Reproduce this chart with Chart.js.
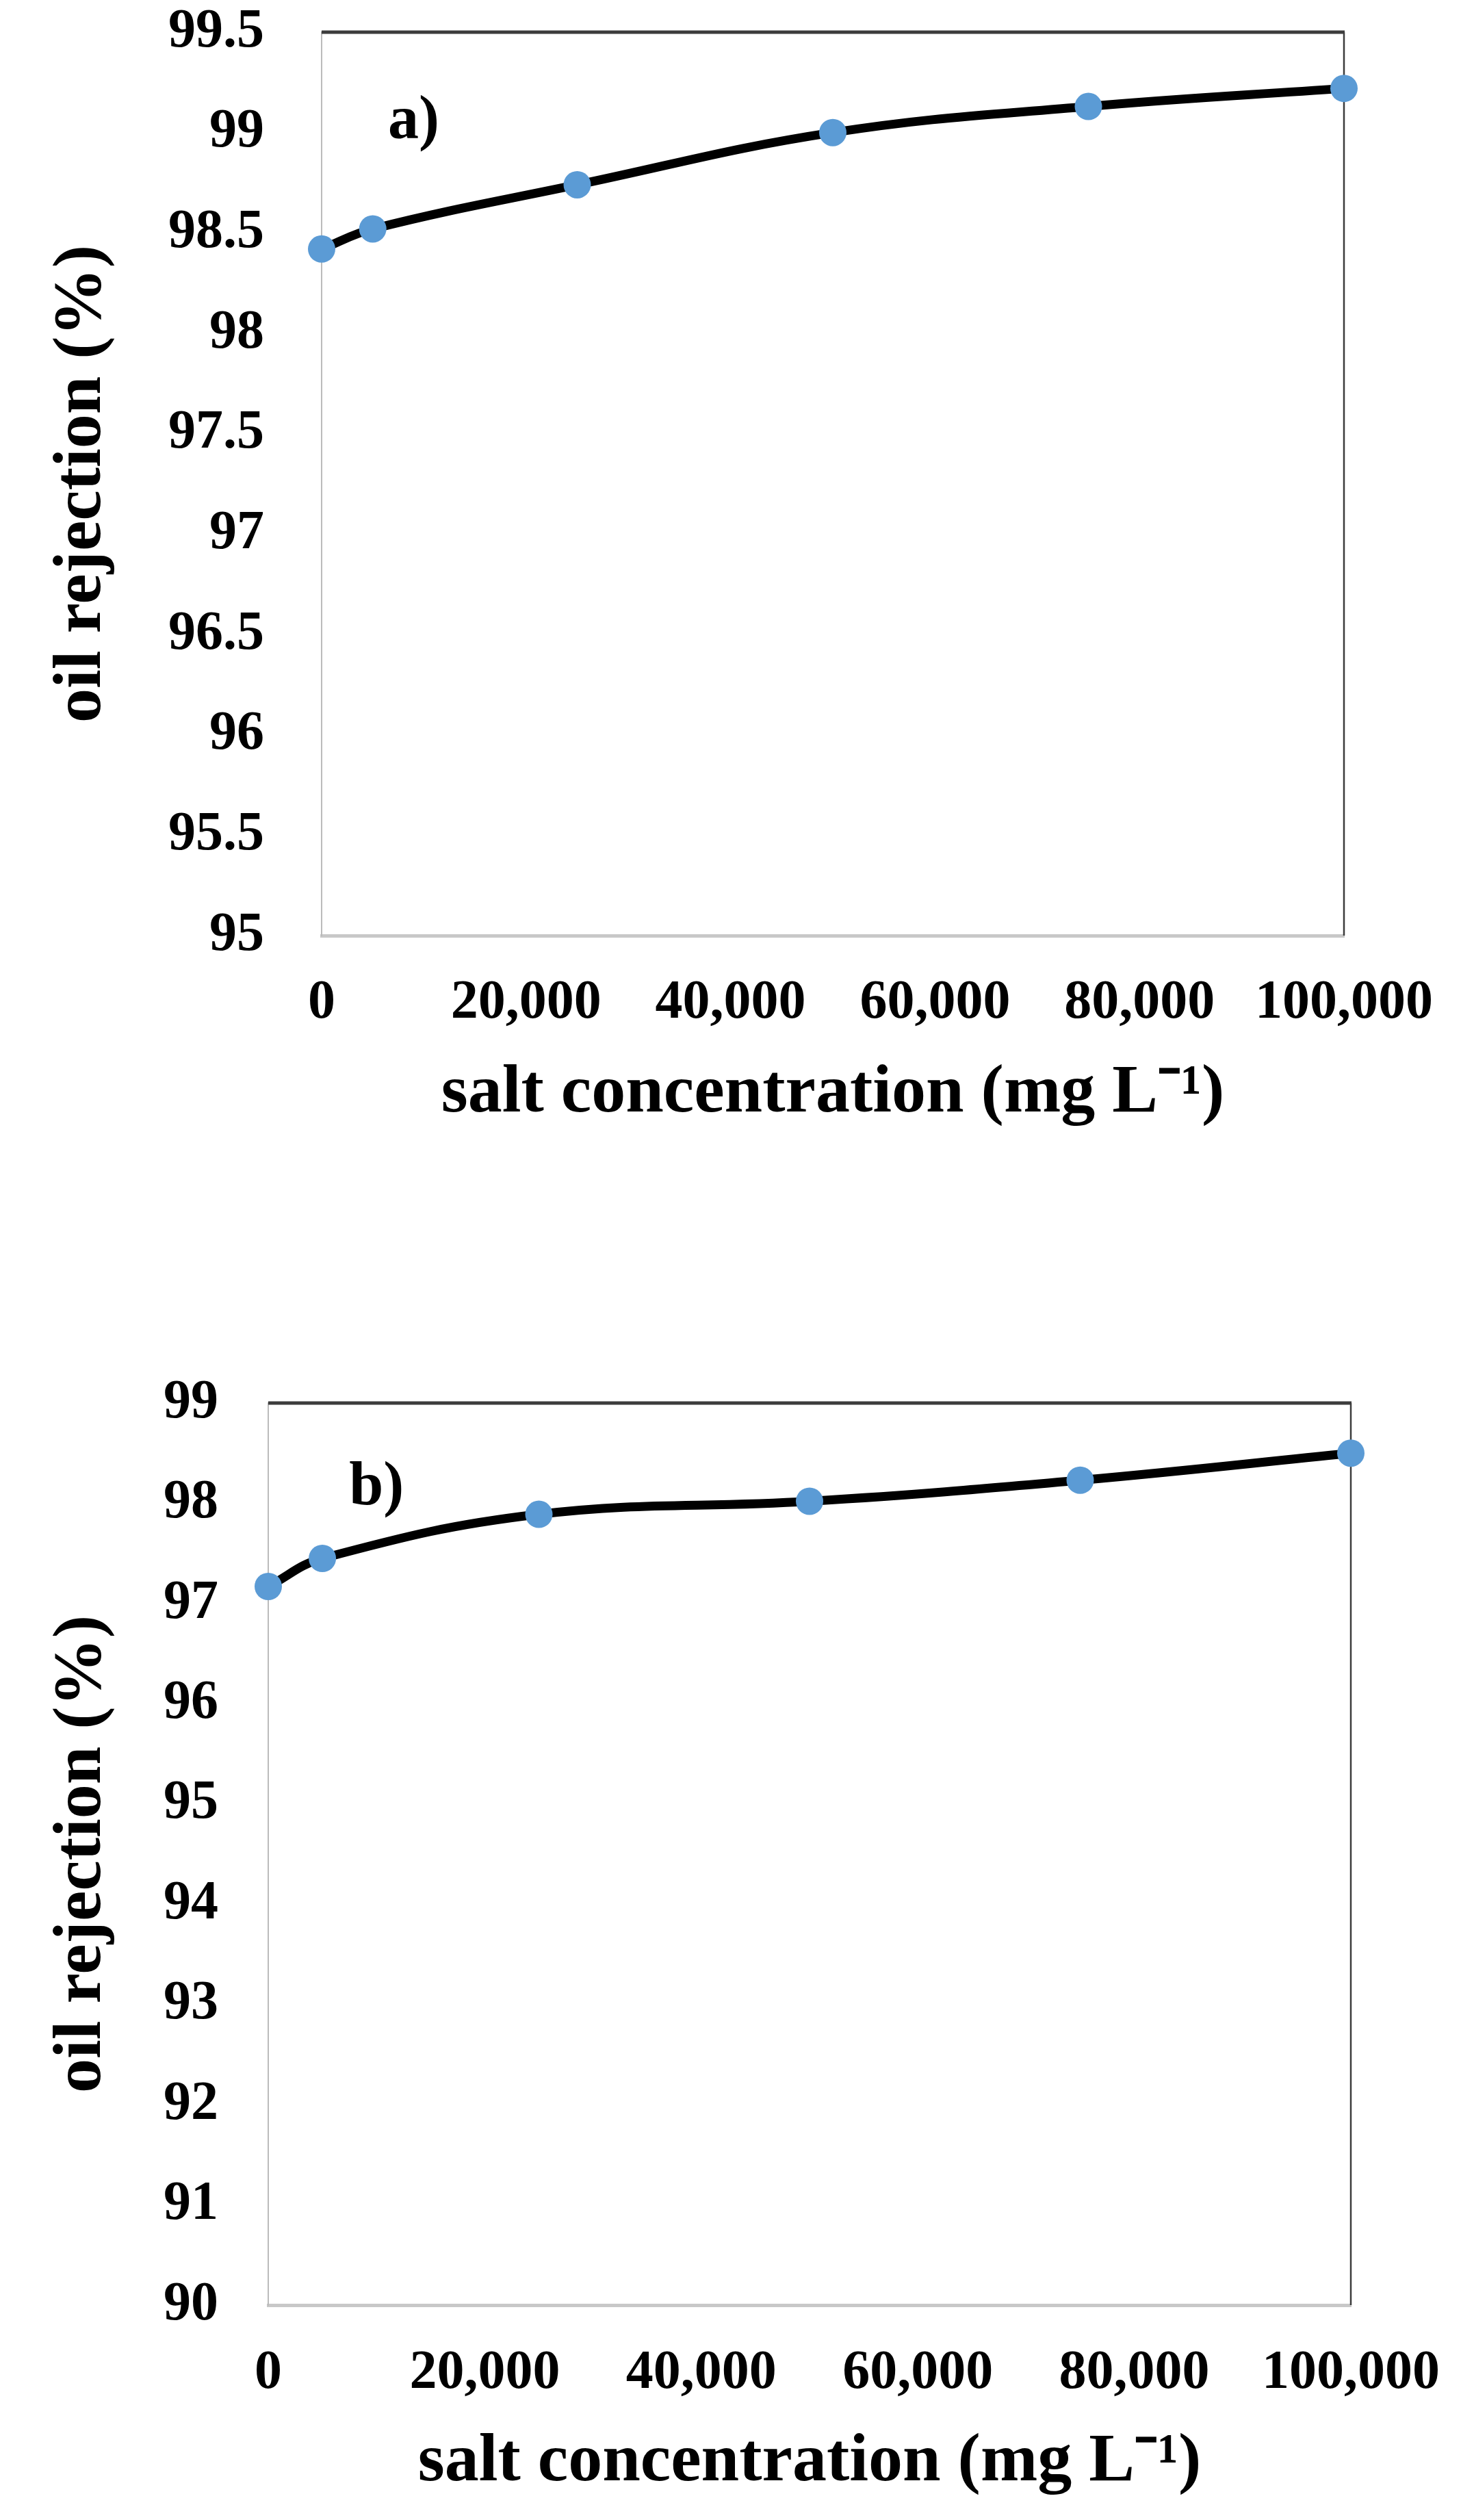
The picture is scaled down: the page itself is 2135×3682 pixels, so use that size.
<!DOCTYPE html>
<html>
<head>
<meta charset="utf-8">
<script src="https://cdn.jsdelivr.net/npm/chart.js@4.4.1/dist/chart.umd.min.js"></script>
<style>
  body { margin: 0; background: #fff; }
  canvas { position: absolute; left: 0; }
  #chartA { top: 0; }
  #chartB { top: 1950px; }
</style>
</head>
<body>
<canvas id="chartA" width="2135" height="1700"></canvas>
<canvas id="chartB" width="2135" height="1732"></canvas>
<script>
// datos
const saltConc = [0, 5000, 25000, 50000, 75000, 100000];
const rejectionA = [98.42, 98.52, 98.74, 99.0, 99.13, 99.22];
const rejectionB = [97.17, 97.45, 97.89, 98.02, 98.23, 98.50];

const xTicks = [0, 20000, 40000, 60000, 80000, 100000];
const yTicksA = [95, 95.5, 96, 96.5, 97, 97.5, 98, 98.5, 99, 99.5];
const yTicksB = [90, 91, 92, 93, 94, 95, 96, 97, 98, 99];

const FONT = '"Liberation Serif", "Times New Roman", serif';

// marco superior/derecho y etiqueta del panel
const framePlugin = {
    id: 'frame',
    beforeDatasetsDraw(chart, args, opts) {
        const { ctx, chartArea: a, scales } = chart;
        ctx.save();
        ctx.strokeStyle = '#3c3c3c';
        ctx.lineWidth = 5;
        ctx.beginPath();
        ctx.moveTo(a.left, a.top);
        ctx.lineTo(a.right + 1, a.top);
        ctx.stroke();
        ctx.lineWidth = 2.5;
        ctx.beginPath();
        ctx.moveTo(a.right, a.top);
        ctx.lineTo(a.right, a.bottom);
        ctx.stroke();

        ctx.font = 'bold 90px ' + FONT;
        ctx.fillStyle = '#000';
        ctx.textAlign = 'center';
        ctx.textBaseline = 'middle';
        ctx.fillText(opts.text, scales.x.getPixelForValue(opts.x), scales.y.getPixelForValue(opts.y));
        ctx.restore();
    }
};

// sin relleno extra por las etiquetas: el área del gráfico la fija el layout
function noLabelPadding(s) {
    s.paddingTop = 0;
    s.paddingBottom = 0;
    s.paddingLeft = 0;
    s.paddingRight = 0;
}

function buildChart(id, values, yTicks, lay) {
    const ctx = document.getElementById(id).getContext('2d');
    return new Chart(ctx, {
        type: 'line',
        data: {
            datasets: [{
                data: saltConc.map((x, i) => ({ x: x, y: values[i] })),
                borderColor: '#000',
                borderWidth: 13,
                tension: 0.4,
                pointRadius: 20,
                pointBackgroundColor: '#5b9bd5',
                pointBorderWidth: 0,
                clip: false
            }]
        },
        options: {
            responsive: false,
            animation: false,
            layout: { padding: { top: lay.top, right: lay.right, bottom: 0, left: 0 } },
            plugins: {
                legend: { display: false },
                tooltip: { enabled: false },
                frame: lay.label
            },
            scales: {
                x: {
                    type: 'linear',
                    min: 0,
                    max: 100000,
                    afterBuildTicks: s => { s.ticks = xTicks.map(v => ({ value: v })); },
                    afterFit: s => { s.height = lay.xHeight; noLabelPadding(s); },
                    grid: { display: false, drawTicks: false },
                    border: { display: true, color: '#c8c8c8', width: 5 },
                    ticks: {
                        padding: lay.xTickPad,
                        maxRotation: 0,
                        color: '#000',
                        font: { family: FONT, size: 80, weight: 'bold', lineHeight: 1 },
                        callback: v => v.toLocaleString('en-US')
                    },
                    title: {
                        display: true,
                        text: 'salt concentration (mg L⁻¹)',
                        color: '#000',
                        font: { family: FONT, size: 100, weight: 'bold', lineHeight: 1.2 },
                        padding: { top: 0, bottom: lay.xTitlePad }
                    }
                },
                y: {
                    min: yTicks[0],
                    max: yTicks[yTicks.length - 1],
                    afterBuildTicks: s => { s.ticks = yTicks.map(v => ({ value: v })); },
                    afterFit: s => { s.width = lay.yWidth; noLabelPadding(s); },
                    grid: { display: false, drawTicks: false },
                    border: { display: true, color: '#bbbbbb', width: 2 },
                    ticks: {
                        padding: lay.yTickPad,
                        color: '#000',
                        font: { family: FONT, size: 80, weight: 'bold', lineHeight: 1 },
                        callback: v => String(+v.toFixed(1))
                    },
                    title: {
                        display: true,
                        text: 'oil rejection (%)',
                        color: '#000',
                        font: { family: FONT, size: 100, weight: 'bold', lineHeight: 1.2 },
                        padding: { top: 60, bottom: 0 }
                    }
                }
            }
        },
        plugins: [framePlugin]
    });
}

buildChart('chartA', rejectionA, yTicksA, {
    top: 47, right: 171, yWidth: 470, xHeight: 333,
    xTickPad: 59, yTickPad: 84, xTitlePad: 42,
    label: { text: 'a)', x: 9000, y: 99.05 }
});

buildChart('chartB', rejectionB, yTicksB, {
    top: 100, right: 161, yWidth: 392, xHeight: 314,
    xTickPad: 60, yTickPad: 73, xTitlePad: 24,
    label: { text: 'b)', x: 10000, y: 98.15 }
});
</script>
</body>
</html>
